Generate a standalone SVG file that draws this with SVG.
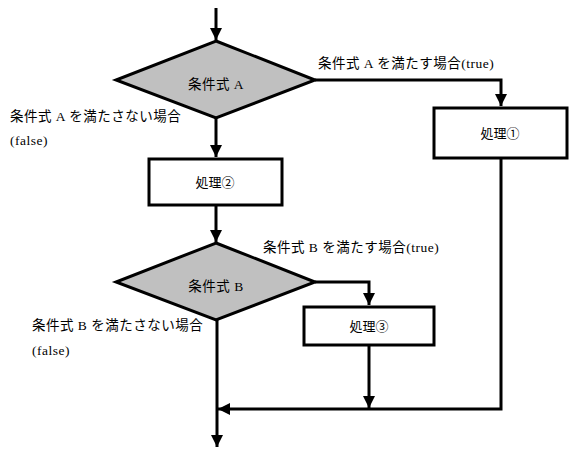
<svg xmlns="http://www.w3.org/2000/svg" width="583" height="460" viewBox="0 0 583 460">
<defs>
<style>
.n{fill:#fff;stroke:#000;stroke-width:3}
.d{fill:#c0c0c0;stroke:#000;stroke-width:3}
.c{fill:none;stroke:#000;stroke-width:3}
text{font-family:"Liberation Serif","Noto Sans CJK JP",serif;font-size:13.5px;letter-spacing:0.5px;fill:#000}
.m{text-anchor:middle}
.b{font-size:13px;letter-spacing:0}
</style>
<marker id="ah" viewBox="0 0 10 10" refX="10" refY="5" markerWidth="4" markerHeight="4" orient="auto" markerUnits="strokeWidth">
<path d="M0,0 L10,5 L0,10 z" fill="#000"/>
</marker>
</defs>
<rect width="583" height="460" fill="#fff"/>
<g id="connectors">
<path class="c" d="M216,8 V40" marker-end="url(#ah)"/>
<path class="c" d="M315,80 H501 V106" marker-end="url(#ah)"/>
<path class="c" d="M216,118 V157" marker-end="url(#ah)"/>
<path class="c" d="M216,205 V242" marker-end="url(#ah)"/>
<path class="c" d="M315,282 H369 V305" marker-end="url(#ah)"/>
<path class="c" d="M369,345 V408" marker-end="url(#ah)"/>
<path class="c" d="M501,158 V409 H218" marker-end="url(#ah)"/>
<path class="c" d="M217,320 V447" marker-end="url(#ah)"/>
</g>
<g id="condA">
<polygon class="d" points="216,41 315,80 216,118 116,80"/>
<text class="m" x="216" y="89">条件式 A</text>
</g>
<g id="proc1">
<rect class="n" x="434" y="108" width="133" height="50"/>
<text class="m b" x="500" y="138">処理①</text>
</g>
<g id="proc2">
<rect class="n" x="149" y="159" width="133" height="46"/>
<text class="m b" x="215" y="187">処理②</text>
</g>
<g id="condB">
<polygon class="d" points="216,243 315,282 216,320 116,282"/>
<text class="m" x="216" y="291">条件式 B</text>
</g>
<g id="proc3">
<rect class="n" x="304" y="307" width="130" height="38"/>
<text class="m b" x="369" y="331">処理③</text>
</g>
<g id="labels">
<text x="318" y="68">条件式 A を満たす場合(true)</text>
<text x="10" y="121">条件式 A を満たさない場合</text>
<text x="10" y="145">(false)</text>
<text x="263" y="252">条件式 B を満たす場合(true)</text>
<text x="32" y="330">条件式 B を満たさない場合</text>
<text x="32" y="355">(false)</text>
</g>
</svg>
